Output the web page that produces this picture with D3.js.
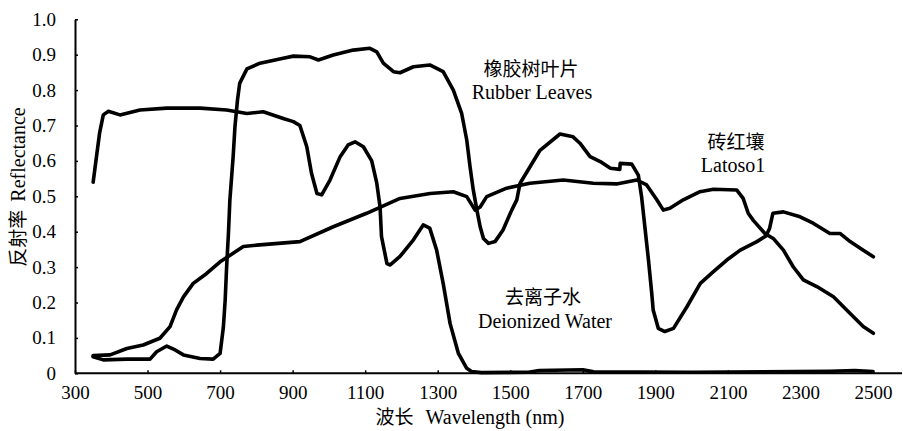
<!DOCTYPE html>
<html><head><meta charset="utf-8">
<script src="https://cdn.jsdelivr.net/npm/d3@7"></script>
<style>body{margin:0;background:#fff}svg{display:block}text{fill:#000}</style>
</head><body><svg id="c" width="903" height="431"></svg>
<script>
// wavelength (nm) and reflectance for each curve
const leafWl = [350,378,443,507,525,553,576,599,645,681,700,709,714,718,723,727,736,741,748,754,774,810,874,902,948,971,1012,1067,1113,1132,1150,1178,1196,1233,1278,1315,1343,1366,1380,1389,1398,1408,1417,1426,1440,1458,1480,1504,1518,1527,1582,1637,1673,1692,1720,1748,1776,1802,1803,1835,1853,1862,1871,1881,1890,1894,1908,1926,1950,1987,2024,2060,2097,2134,2180,2205,2215,2224,2253,2299,2335,2381,2409,2437,2470,2501];
const leafR  = [0.047,0.038,0.04,0.04,0.061,0.077,0.066,0.052,0.042,0.04,0.056,0.13,0.207,0.30,0.395,0.49,0.612,0.697,0.772,0.819,0.86,0.876,0.89,0.896,0.894,0.885,0.899,0.913,0.918,0.908,0.876,0.852,0.849,0.866,0.871,0.852,0.80,0.734,0.659,0.584,0.518,0.461,0.414,0.381,0.367,0.372,0.405,0.461,0.49,0.537,0.63,0.676,0.668,0.65,0.612,0.598,0.579,0.576,0.593,0.591,0.56,0.499,0.414,0.32,0.226,0.179,0.127,0.118,0.127,0.188,0.254,0.287,0.32,0.348,0.372,0.388,0.41,0.452,0.456,0.442,0.424,0.395,0.395,0.372,0.35,0.329];

const waterWl = [350,359,368,378,392,424,479,553,645,718,774,819,874,902,920,939,952,967,980,1003,1031,1053,1072,1095,1118,1132,1141,1145,1160,1169,1196,1233,1260,1278,1297,1315,1334,1357,1380,1393,1420,1550,1580,1700,1730,2000,2380,2450,2500];
const waterR  = [0.54,0.61,0.68,0.73,0.74,0.73,0.744,0.749,0.749,0.744,0.734,0.739,0.72,0.711,0.70,0.64,0.565,0.508,0.504,0.546,0.612,0.645,0.654,0.64,0.60,0.537,0.47,0.386,0.31,0.306,0.33,0.377,0.419,0.41,0.348,0.254,0.141,0.056,0.014,0.005,0.002,0.003,0.008,0.01,0.004,0.003,0.006,0.008,0.005];

const soilWl = [350,397,443,488,534,562,580,599,626,663,700,736,764,801,920,1012,1104,1196,1279,1343,1380,1403,1417,1435,1490,1554,1646,1729,1793,1849,1876,1904,1922,1940,1977,2023,2060,2124,2142,2156,2170,2202,2225,2253,2280,2308,2345,2391,2437,2473,2501];
const soilR  = [0.05,0.052,0.07,0.08,0.099,0.132,0.179,0.216,0.254,0.282,0.315,0.339,0.358,0.362,0.372,0.414,0.452,0.494,0.508,0.513,0.499,0.461,0.47,0.499,0.523,0.537,0.546,0.537,0.535,0.546,0.532,0.49,0.461,0.466,0.49,0.513,0.52,0.518,0.494,0.452,0.432,0.395,0.381,0.348,0.301,0.264,0.245,0.216,0.169,0.132,0.113];

const xTicks = [300,500,700,900,1100,1300,1500,1700,1900,2100,2300,2500];
const yTicks = [0,0.1,0.2,0.3,0.4,0.5,0.6,0.7,0.8,0.9,1.0];
const yTickLabels = ["0","0.1","0.2","0.3","0.4","0.5","0.6","0.7","0.8","0.9","1.0"];

const serif = '"Liberation Serif","Times New Roman",serif';
const cjk = '"Noto Sans CJK SC","Noto Sans CJK JP",sans-serif';

const svg = d3.select("#c");
const x = d3.scaleLinear().domain([300,2500]).range([75,873]);
const y = d3.scaleLinear().domain([0,1]).range([373.3,19.3]);
const xEnd = 902;

// axes
const gx = svg.append("g").attr("transform",`translate(0,${y(0)})`)
  .call(d3.axisBottom(x).tickValues(xTicks).tickSizeInner(-3).tickSizeOuter(0).tickPadding(12).tickFormat(d3.format("d")));
gx.select(".domain").remove();
gx.append("line").attr("x1",x(300)).attr("x2",xEnd).attr("stroke","#000").attr("stroke-width",2);
gx.selectAll(".tick line").attr("stroke","#000").attr("stroke-width",1.5);
gx.selectAll(".tick text").style("font-size","19px").style("font-family",serif).attr("fill","#000").attr("dy","0.71em");

const gy = svg.append("g").attr("transform",`translate(${x(300)},0)`)
  .call(d3.axisLeft(y).tickValues(yTicks).tickSizeInner(-3).tickSizeOuter(0).tickPadding(19).tickFormat((d,i)=>yTickLabels[i]));
gy.select(".domain").attr("stroke","#000").attr("stroke-width",2);
gy.selectAll(".tick line").attr("stroke","#000").attr("stroke-width",1.5);
gy.selectAll(".tick text").style("font-size","19px").style("font-family",serif).attr("fill","#000");

// curves
const line = d3.line().x(d=>x(d[0])).y(d=>y(d[1]));
function draw(wl, r){
  svg.append("path").datum(wl.map((w,i)=>[w,r[i]]))
    .attr("d",line).attr("fill","none").attr("stroke","#000")
    .attr("stroke-width",3.6).attr("stroke-linejoin","round").attr("stroke-linecap","round");
}
draw(soilWl, soilR);
draw(waterWl, waterR);
draw(leafWl, leafR);

// labels
function label(t, cx, by, font, size){
  svg.append("text").attr("x",cx).attr("y",by).attr("text-anchor","middle")
    .style("font-size",(size||20)+"px").style("font-family",font||serif).text(t);
}
label("橡胶树叶片",531,76,cjk,19);
label("Rubber Leaves",532,99);
label("砖红壤",736,149,cjk,19);
label("Latoso1",733,172);
label("去离子水",543,304,cjk,19);
label("Deionized Water",545,328);

// axis titles
const xt = svg.append("text").attr("x",470).attr("y",424).attr("text-anchor","middle").style("font-size","20px");
xt.append("tspan").style("font-family",cjk).style("font-size","19px").text("波长");
xt.append("tspan").attr("dx",12).style("font-family",serif).text("Wavelength (nm)");

const yt = svg.append("text").attr("transform","translate(25,187) rotate(-90)").attr("text-anchor","middle").style("font-size","20px");
yt.append("tspan").style("font-family",cjk).style("font-size","19px").text("反射率");
yt.append("tspan").attr("dx",8).style("font-family",serif).text("Reflectance");
</script></body></html>
